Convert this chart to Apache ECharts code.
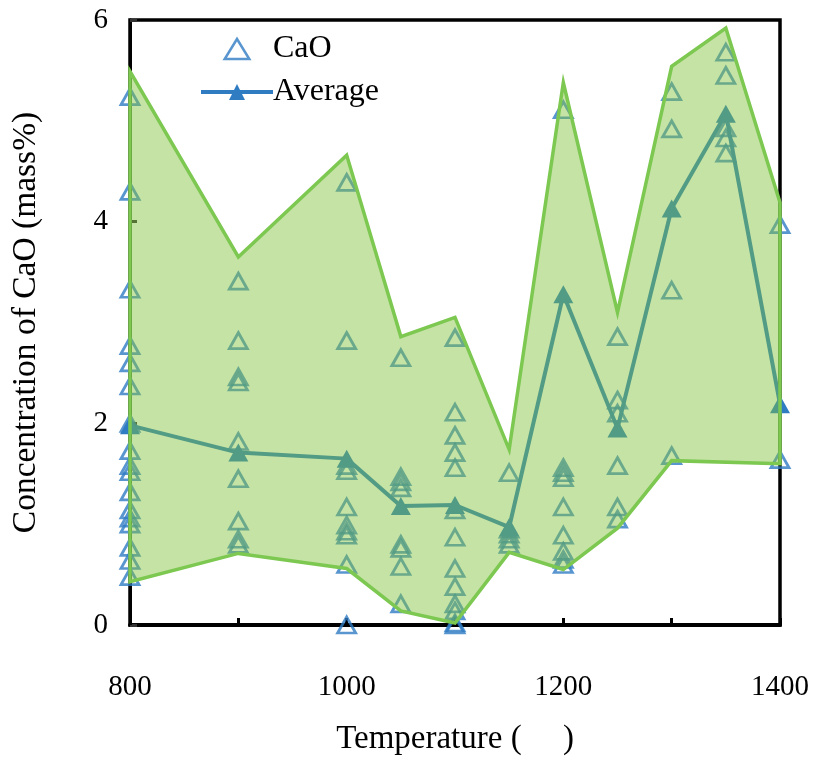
<!DOCTYPE html>
<html>
<head>
<meta charset="utf-8">
<script src="https://cdn.jsdelivr.net/npm/echarts@6/dist/echarts.min.js"></script>
<style>
  html, body { margin: 0; padding: 0; background: #fff; }
  #chart { width: 813px; height: 757px; }
</style>
</head>
<body>
<div id="chart"></div>
<script>
// Measured CaO concentration (mass%) at each temperature
const temps = [800, 900, 1000, 1050, 1100, 1150, 1200, 1250, 1300, 1350, 1400];
const cao800  = [5.24, 4.30, 3.33, 2.77, 2.60, 2.37, 2.00, 1.73, 1.58, 1.52, 1.32, 1.14, 1.06, 1.00, 0.77, 0.64, 0.48];
const cao900  = [3.41, 2.82, 2.46, 2.41, 1.82, 1.45, 1.03, 0.85, 0.80];
const cao1000 = [4.39, 2.82, 1.58, 1.53, 1.17, 0.99, 0.93, 0.89, 0.60, 0.00];
const cao1050 = [2.65, 1.47, 1.42, 1.36, 0.80, 0.76, 0.58, 0.21];
const cao1100 = [2.85, 2.11, 1.88, 1.71, 1.56, 1.14, 0.87, 0.56, 0.38, 0.21, 0.14, 0.02, 0.00];
const cao1150 = [1.51, 0.95, 0.90, 0.85, 0.80];
const cao1200 = [5.11, 1.56, 1.51, 1.46, 1.17, 0.89, 0.73, 0.65, 0.60];
const cao1250 = [2.86, 2.23, 2.10, 1.58, 1.17, 1.05];
const cao1300 = [5.29, 4.92, 3.32, 1.68];
const cao1350 = [5.68, 5.45, 4.93, 4.83, 4.68];
const cao1400 = [3.97, 1.64];
const caoColumns = [cao800, cao900, cao1000, cao1050, cao1100, cao1150, cao1200, cao1250, cao1300, cao1350, cao1400];

// Average concentration per temperature
const average = [1.98, 1.71, 1.65, 1.18, 1.19, 0.97, 3.28, 1.95, 4.13, 5.07, 2.19];

// Shaded range: upper and lower envelope
const upperTemps = [800, 900, 1000, 1050, 1100, 1150, 1200, 1250, 1300, 1350, 1400];
const upperVals  = [5.49, 3.65, 4.66, 2.86, 3.05, 1.74, 5.38, 3.10, 5.54, 5.92, 4.19];
const lowerTemps = [800, 900, 1000, 1050, 1100, 1150, 1200, 1250, 1300, 1400];
const lowerVals  = [0.43, 0.71, 0.56, 0.14, 0.02, 0.72, 0.55, 0.96, 1.63, 1.60];

const xTicks = [800, 1000, 1200, 1400];

const scatterData = [];
caoColumns.forEach((col, i) => col.forEach(v => scatterData.push([temps[i], v])));
const avgData = temps.map((t, i) => [t, average[i]]);

const serif = '"Liberation Serif", "DejaVu Serif", serif';
const blue = '#2f7cc3';
const triPath = 'path://M10,2 L18,15 L2,15 Z';

const chart = echarts.init(document.getElementById('chart'));
chart.setOption({
  animation: false,
  backgroundColor: '#fff',
  grid: {
    left: 130, right: 33, top: 20, bottom: 132,
    containLabel: false, outerBoundsMode: 'none',
    show: true, borderColor: '#000', borderWidth: 3.5, backgroundColor: 'transparent'
  },
  legend: {
    orient: 'vertical',
    left: 194, top: 28,
    itemWidth: 72, itemHeight: 20, itemGap: 11,
    symbolKeepAspect: true,
    textStyle: { fontFamily: serif, fontSize: 32, color: '#000', padding: [0, 0, 0, -5] },
    data: [
      { name: 'CaO', icon: triPath, itemStyle: { color: 'transparent', borderColor: blue, borderWidth: 2.5 } },
      { name: 'Average', lineStyle: { width: 4, color: blue } }
    ]
  },
  xAxis: {
    type: 'value', min: 800, max: 1400, interval: 100,
    name: 'Temperature (     )', nameLocation: 'middle', nameGap: 98,
    nameTextStyle: { fontFamily: serif, fontSize: 33, color: '#000' },
    axisLine: { show: true, lineStyle: { color: '#000', width: 4 } },
    axisTick: { show: true, inside: true, length: 7, lineStyle: { color: '#000', width: 3 } },
    axisLabel: {
      margin: 48, fontFamily: serif, fontSize: 29, color: '#000',
      formatter: v => (xTicks.indexOf(v) >= 0 ? String(v) : '')
    },
    splitLine: { show: false }
  },
  yAxis: {
    type: 'value', min: 0, max: 6, interval: 2,
    name: 'Concentration of CaO (mass%)', nameLocation: 'middle', nameGap: 87,
    nameTextStyle: { fontFamily: serif, fontSize: 33.5, color: '#000' },
    axisLine: { show: true, lineStyle: { color: '#000', width: 3 } },
    axisTick: { show: true, inside: true, length: 7, lineStyle: { color: '#333', width: 3 } },
    axisLabel: { margin: 22, fontFamily: serif, fontSize: 29, color: '#000' },
    splitLine: { show: false }
  },
  series: [
    {
      name: 'CaO', type: 'scatter', z: 2,
      symbol: 'triangle', symbolSize: [18, 16],
      itemStyle: { color: 'transparent', borderColor: blue, borderWidth: 2.8 },
      data: scatterData
    },
    {
      name: 'Average', type: 'line', z: 3,
      symbol: 'triangle', symbolSize: [20, 18],
      itemStyle: { color: blue },
      lineStyle: { color: blue, width: 4 },
      data: avgData
    },
    {
      name: 'range', type: 'custom', z: 5, silent: true,
      data: [[800, 0]],
      renderItem: function (params, api) {
        const pts = [];
        upperTemps.forEach((t, i) => pts.push(api.coord([t, upperVals[i]])));
        for (let i = lowerTemps.length - 1; i >= 0; i--) {
          pts.push(api.coord([lowerTemps[i], lowerVals[i]]));
        }
        return {
          type: 'polygon',
          shape: { points: pts },
          style: { fill: 'rgba(126,193,55,0.45)', stroke: '#7cc850', lineWidth: 3.5, lineJoin: 'miter' }
        };
      }
    }
  ]
});
</script>
</body>
</html>
